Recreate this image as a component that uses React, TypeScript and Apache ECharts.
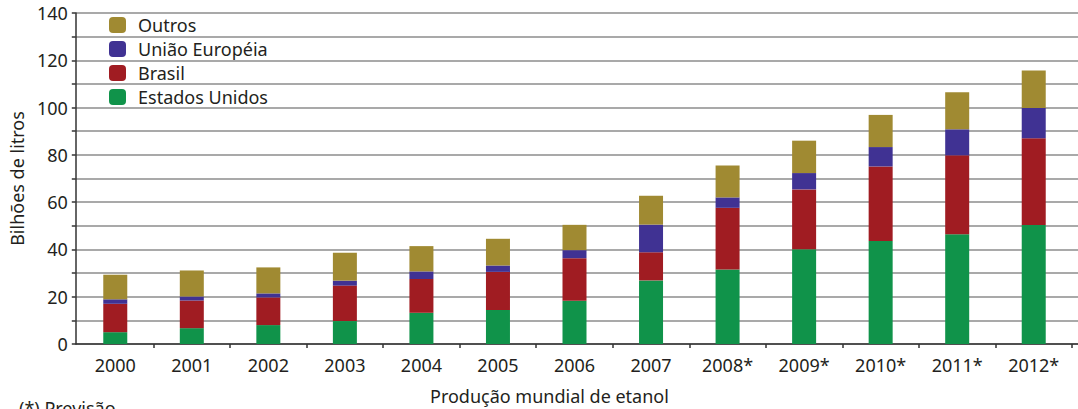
import React, { useEffect, useRef } from "react";
import * as echarts from "echarts";

const categories = ["2000", "2001", "2002", "2003", "2004", "2005", "2006", "2007", "2008*", "2009*", "2010*", "2011*", "2012*"];
const estadosUnidos = [5.0, 6.7, 8.0, 9.7, 13.2, 14.4, 18.3, 26.9, 31.5, 40.1, 43.6, 46.4, 50.3];
const brasil = [12.0, 11.7, 11.7, 15.0, 14.3, 16.1, 18.0, 11.9, 26.1, 25.3, 31.5, 33.4, 36.7];
const uniaoEuropeia = [1.9, 1.7, 1.7, 2.1, 3.2, 2.7, 3.4, 11.7, 4.4, 6.9, 8.2, 11.0, 12.8];
const outros = [10.4, 11.0, 11.0, 11.8, 10.7, 11.3, 10.7, 12.2, 13.5, 13.7, 13.6, 15.7, 15.9];
const legendOrder = ["Outros", "União Européia", "Brasil", "Estados Unidos"];

const FONT = "'Noto Sans', sans-serif";
const TEXT = "#231f20";

export default function App() {
  const ref = useRef<HTMLDivElement>(null);
  useEffect(() => {
    if (!ref.current) return;
    const chart = echarts.init(ref.current, null, { renderer: "svg" });
    const mk = (name: string, data: number[], color: string) => ({
      name,
      type: "bar",
      stack: "total",
      xAxisIndex: 1,
      yAxisIndex: 1,
      barWidth: 24,
      data,
      itemStyle: { color },
    });
    chart.setOption({
      animation: false,
      backgroundColor: "#ffffff",
      textStyle: { fontFamily: FONT },
      grid: [
        { left: 65, right: 0, top: 13, bottom: 65 },
        { left: 77, right: 6, top: 13, bottom: 65 },
      ],
      legend: {
        data: legendOrder,
        orient: "vertical",
        left: 109,
        top: 16,
        padding: 0,
        itemWidth: 17,
        itemHeight: 16,
        itemGap: 6,
        selectedMode: false,
        textStyle: { fontFamily: FONT, fontSize: 18, color: TEXT, padding: [0, 0, 0, 7] },
      },
      xAxis: [
        {
          gridIndex: 0,
          type: "category",
          data: [""],
          axisLine: { show: true, lineStyle: { color: "#333333", width: 1.5 } },
          axisTick: { show: false },
          axisLabel: { show: false },
          splitLine: { show: false },
        },
        {
          gridIndex: 1,
          type: "category",
          data: categories,
          axisLine: { show: false },
          axisTick: {
            show: true,
            length: 4,
            interval: (index: number) => index !== 0,
            lineStyle: { color: "#333333", width: 1.5 },
          },
          axisLabel: { fontFamily: FONT, fontSize: 18, color: TEXT, margin: 12 },
          splitLine: { show: false },
        },
      ],
      yAxis: [
        {
          gridIndex: 0,
          type: "value",
          min: 0,
          max: 140,
          interval: 10,
          name: "Bilhões de litros",
          nameLocation: "middle",
          nameGap: 40,
          nameTextStyle: { fontFamily: FONT, fontSize: 18, color: TEXT },
          axisLine: { show: true, lineStyle: { color: "#333333", width: 1.5 } },
          axisTick: { show: true, length: 4, lineStyle: { color: "#333333", width: 1.5 } },
          axisLabel: {
            fontFamily: FONT,
            fontSize: 18,
            color: TEXT,
            margin: 8,
            formatter: (v: number) => (v % 20 === 0 ? String(v) : ""),
          },
          splitLine: { show: true, lineStyle: { color: "#8c8c8c", width: 1.5 } },
        },
        {
          gridIndex: 1,
          type: "value",
          min: 0,
          max: 140,
          interval: 10,
          show: false,
          splitLine: { show: false },
        },
      ],
      series: [
        mk("Estados Unidos", estadosUnidos, "#10934a"),
        mk("Brasil", brasil, "#a01c22"),
        mk("União Européia", uniaoEuropeia, "#403293"),
        mk("Outros", outros, "#a08a32"),
      ],
      graphic: [
        {
          type: "text",
          left: 553 - 123,
          top: 387,
          style: { text: "Produção mundial de etanol", font: `18px ${FONT}`, fill: TEXT },
        },
        {
          type: "text",
          left: 19,
          top: 399,
          style: { text: "(*) Previsão", font: `18px ${FONT}`, fill: TEXT },
        },
      ],
    });
    return () => chart.dispose();
  }, []);
  return (
    <div
      ref={ref}
      style={{ position: "absolute", left: 0, top: 0, width: 1078, height: 409, overflow: "hidden" }}
    />
  );
}
